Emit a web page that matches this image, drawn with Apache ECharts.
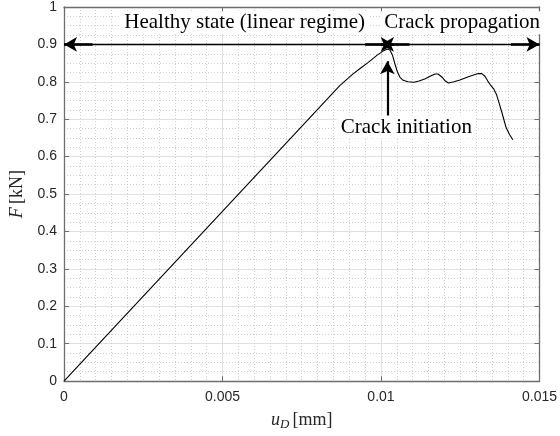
<!DOCTYPE html>
<html>
<head>
<meta charset="utf-8">
<script src="https://cdn.jsdelivr.net/npm/echarts@6/dist/echarts.min.js"></script>
<style>
html,body{margin:0;padding:0;background:#fff;}
#chart{width:560px;height:436px;}
</style>
</head>
<body>
<div id="chart"></div>
<script>
// displacement u_D [mm]
const uD = [0, 0.0087, 0.0091, 0.00936, 0.0096, 0.00989, 0.0101, 0.0102, 0.01028, 0.01036, 0.01045, 0.01052, 0.0106, 0.0107, 0.01085, 0.01104, 0.0112, 0.0114, 0.01158, 0.01171, 0.0118, 0.01192, 0.01203, 0.01213, 0.0123, 0.01249, 0.0128, 0.01307, 0.01318, 0.01328, 0.01337, 0.01345, 0.01355, 0.01364, 0.01372, 0.0138, 0.01388, 0.01395, 0.01405, 0.01416];
// force F [kN]
const force = [0, 0.79, 0.82, 0.837, 0.852, 0.872, 0.884, 0.888, 0.885, 0.872, 0.845, 0.826, 0.812, 0.804, 0.800, 0.799, 0.802, 0.808, 0.816, 0.821, 0.821, 0.813, 0.802, 0.797, 0.800, 0.805, 0.815, 0.822, 0.822, 0.815, 0.802, 0.792, 0.782, 0.767, 0.745, 0.722, 0.698, 0.677, 0.660, 0.645];

const xTickLabels = ['0', '0.005', '0.01', '0.015'];
const yTickLabels = ['0', '0.1', '0.2', '0.3', '0.4', '0.5', '0.6', '0.7', '0.8', '0.9', '1'];

// annotation anchors in data units
const annotTexts = ['Healthy state (linear regime)', 'Crack propagation', 'Crack initiation'];
const annotX = [0.0057, 0.01256, 0.0108];
const annotY = [0.958, 0.958, 0.679];
const arrowLevel = 0.9;
const peakX = 0.0102;
const healthyArrow = [0, 0.0104];
const propagationArrow = [0.0100, 0.015];
const initiationArrow = [0.705, 0.855];

const chart = echarts.init(document.getElementById('chart'));

const serif = '"Liberation Serif", "DejaVu Serif", serif';
const sans = '"Liberation Sans", Arial, Helvetica, sans-serif';

const axisCommon = {
  axisLine: { show: true, onZero: false, lineStyle: { color: '#6e6e6e', width: 1.3 } },
  axisTick: { show: true, inside: true, length: 5, lineStyle: { color: '#6e6e6e', width: 1 } }
};

const data = uD.map((x, i) => [x, force[i]]);

const thin = 1.4, thick = 2.6;
const markLines = [
  [{ coord: [healthyArrow[0], arrowLevel], symbol: 'arrow', lineStyle: { width: thin } }, { coord: [healthyArrow[1], arrowLevel], symbol: 'arrow' }],
  [{ coord: [healthyArrow[0], arrowLevel], symbol: 'none', lineStyle: { width: thick } }, { coord: [healthyArrow[0] + 0.0009, arrowLevel], symbol: 'none' }],
  [{ coord: [healthyArrow[1] - 0.0009, arrowLevel], symbol: 'none', lineStyle: { width: thick } }, { coord: [healthyArrow[1], arrowLevel], symbol: 'none' }],
  [{ coord: [propagationArrow[0], arrowLevel], symbol: 'arrow', lineStyle: { width: thin } }, { coord: [propagationArrow[1], arrowLevel], symbol: 'arrow' }],
  [{ coord: [propagationArrow[0], arrowLevel], symbol: 'none', lineStyle: { width: thick } }, { coord: [propagationArrow[0] + 0.0009, arrowLevel], symbol: 'none' }],
  [{ coord: [propagationArrow[1] - 0.0009, arrowLevel], symbol: 'none', lineStyle: { width: thick } }, { coord: [propagationArrow[1], arrowLevel], symbol: 'none' }],
  [{ coord: [peakX, initiationArrow[0]], symbol: 'none', lineStyle: { width: 2.2 } }, { coord: [peakX, initiationArrow[1]], symbol: 'arrow' }]
];

const markPoints = annotTexts.map((t, i) => ({
  coord: [annotX[i], annotY[i]],
  symbol: 'rect',
  symbolSize: 0,
  label: {
    show: true,
    position: 'inside',
    formatter: t,
    fontFamily: serif,
    fontSize: 21,
    color: '#000',
    backgroundColor: '#fff',
    padding: [1, 4, 1, 4]
  }
}));

const option = {
  animation: false,
  backgroundColor: '#fff',
  grid: { left: 64, right: 17, top: 6, bottom: 54, containLabel: false },
  xAxis: [
    Object.assign({
      type: 'value', min: 0, max: 0.015, interval: 0.005,
      position: 'bottom',
      axisLabel: {
        color: '#262626', fontFamily: sans, fontSize: 14, margin: 9,
        formatter: (v) => xTickLabels[Math.round(v / 0.005)]
      },
      splitLine: { show: true, lineStyle: { color: '#e0e0e0', width: 1 } },
      minorTick: { show: false, splitNumber: 10 },
      minorSplitLine: { show: true, lineStyle: { color: '#cfcfcf', width: 1, type: [1, 2] } },
      name: '{it|u}{sub|D} {rm|[mm]}',
      nameLocation: 'middle',
      nameGap: 25,
      nameTextStyle: {
        rich: {
          it: { fontFamily: serif, fontStyle: 'italic', fontSize: 18, lineHeight: 22, color: '#262626' },
          sub: { fontFamily: serif, fontStyle: 'italic', fontSize: 13, lineHeight: 22, padding: [9, 0, 0, 0], color: '#262626' },
          rm: { fontFamily: serif, fontSize: 18, lineHeight: 22, color: '#262626' }
        }
      }
    }, axisCommon),
    Object.assign({
      type: 'value', min: 0, max: 0.015, interval: 0.005,
      position: 'top',
      axisLabel: { show: false },
      splitLine: { show: false }
    }, axisCommon)
  ],
  yAxis: [
    Object.assign({
      type: 'value', min: 0, max: 1, interval: 0.1,
      position: 'left',
      axisLabel: {
        color: '#262626', fontFamily: sans, fontSize: 14, margin: 7,
        formatter: (v) => yTickLabels[Math.round(v / 0.1)]
      },
      splitLine: { show: true, lineStyle: { color: '#e0e0e0', width: 1 } },
      minorTick: { show: false, splitNumber: 4 },
      minorSplitLine: { show: true, lineStyle: { color: '#cfcfcf', width: 1, type: [1, 2] } },
      name: '{it|F} {rm|[kN]}',
      nameLocation: 'middle',
      nameGap: 30,
      nameTextStyle: {
        rich: {
          it: { fontFamily: serif, fontStyle: 'italic', fontSize: 18, color: '#262626' },
          rm: { fontFamily: serif, fontSize: 18, color: '#262626' }
        }
      }
    }, axisCommon),
    Object.assign({
      type: 'value', min: 0, max: 1, interval: 0.1,
      position: 'right',
      axisLabel: { show: false },
      splitLine: { show: false }
    }, axisCommon)
  ],
  series: [{
    type: 'line',
    data: data,
    xAxisIndex: 0,
    yAxisIndex: 0,
    showSymbol: false,
    smooth: false,
    lineStyle: { color: '#000', width: 1.1 },
    z: 3,
    markLine: {
      silent: true,
      symbolSize: [11, 13],
      label: { show: false },
      lineStyle: { color: '#000', type: 'solid' },
      emphasis: { disabled: true },
      data: markLines
    },
    markPoint: {
      silent: true,
      data: markPoints
    }
  }]
};

chart.setOption(option);
</script>
</body>
</html>
